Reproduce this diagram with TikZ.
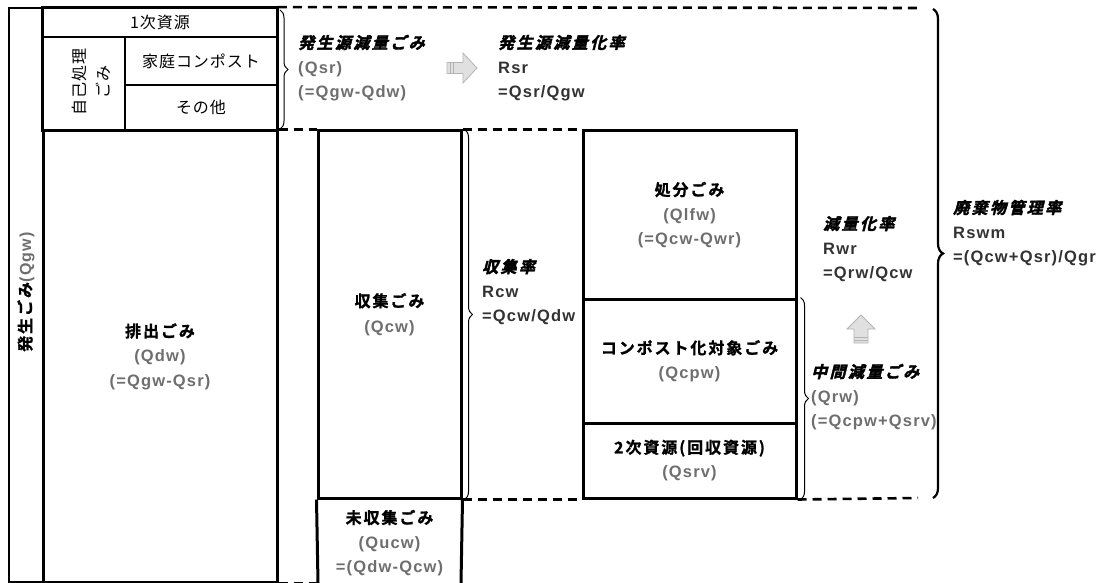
\documentclass[tikz,border=0pt]{standalone}
\usepackage{fontspec}
\setmainfont{Liberation Sans}
\newfontfamily\jpr{Noto Sans CJK JP}[LetterSpace=6]
\newfontfamily\jpb{Noto Sans CJK JP Bold}[LetterSpace=12,FakeBold=1.2]
\newfontfamily\jpbi{Noto Sans CJK JP Bold}[LetterSpace=15,FakeSlant=0.25,FakeBold=2.4]
\newfontfamily\lat{Liberation Sans Bold}[LetterSpace=7]
\usetikzlibrary{decorations.pathreplacing}
\definecolor{qgray}{RGB}{110,110,110}
\definecolor{fgray}{RGB}{50,50,50}
\definecolor{arrfill}{RGB}{224,224,224}
\definecolor{arrline}{RGB}{180,180,180}
\newcommand\fs{\fontsize{16}{24.5}\selectfont}
\newcommand\fsl{\fontsize{16.5}{24.5}\selectfont}
\tikzset{
  cell/.style={draw, line width=3pt, inner sep=0pt, font=\fs, align=center},
  cellthin/.style={draw, line width=1.8pt, inner sep=0pt, font=\fs, align=center},
  dashline/.style={line width=2.6pt, dash pattern=on 9pt off 6pt},
  bracethin/.style={decorate, decoration={brace, amplitude=8pt}, line width=1pt},
  bracebig/.style={decorate, decoration={brace, amplitude=10pt}, line width=2.2pt},
  label/.style={anchor=west, align=left, font=\fs, inner sep=0pt},
  blockarrow/.style={fill=arrfill, draw=arrline, line width=0.8pt, line join=miter}
}
\begin{document}
\begin{tikzpicture}[x=1pt,y=-1pt]
\useasboundingbox (0,0) rectangle (1105,583);

% left column
\node[draw, line width=2.2pt, minimum width=34pt, minimum height=574pt, inner sep=0pt] (gen) at (26,295) {};
\node[rotate=90, font=\fs, inner sep=0pt] (gent) at (26,292) {{\jpb 発生ごみ}{\lat\color{qgray}(Qgw)}};

% top block
\node[cellthin, minimum width=82pt, minimum height=93pt] (jiko) at (84,83.5) {};
\node[rotate=90, align=center, font=\fs\jpr, inner sep=0pt] (jikot) at (91,82) {自己処理\\ごみ};
\node[cellthin, minimum width=152pt, minimum height=48pt] (kotei) at (201,61) {\jpr 家庭コンポスト};
\node[cellthin, minimum width=152pt, minimum height=45pt] (sonota) at (201,107.5) {\jpr その他};
\node[cellthin, minimum width=234pt, minimum height=29pt] (prim) at (160,22.5) {\jpr 1次資源};
\draw[line width=3pt] (prim.north west) rectangle (sonota.south east);

% discharged waste
\node[cell, minimum width=234pt, minimum height=451pt] (haishutsu) at (160,356.5)
  {{\jpb 排出ごみ}\\{\fsl\lat\color{qgray}(Qdw)}\\{\fsl\lat\color{qgray}(=Qgw-Qsr)}};

% collected waste
\node[cell, minimum width=143pt, minimum height=367pt] (shushu) at (389.5,314.5)
  {{\jpb 収集ごみ}\\[1pt]{\fsl\lat\color{qgray}(Qcw)}};
\coordinate (msl) at (318,583);
\coordinate (msr) at (461,583);
\draw[line width=3pt] (shushu.south west) -- (msl);
\draw[line width=3pt] (shushu.south east) -- (msr);
\node[align=center, font=\fs, inner sep=0pt] (mishushu) at (389.5,543)
  {{\jpb 未収集ごみ}\\{\fsl\lat\color{qgray}(Qucw)}\\{\fsl\lat\color{qgray}=(Qdw-Qcw)}};

% right boxes
\node[cell, minimum width=213pt, minimum height=168pt] (shobun) at (689.5,215)
  {{\jpb 処分ごみ}\\{\fsl\lat\color{qgray}(Qlfw)}\\{\fsl\lat\color{qgray}(=Qcw-Qwr)}};
\node[cell, minimum width=213pt, minimum height=124pt] (compost) at (689.5,361)
  {{\jpb コンポスト化対象ごみ}\\{\fsl\lat\color{qgray}(Qcpw)}};
\node[cell, minimum width=213pt, minimum height=75pt] (niji) at (689.5,460.5)
  {{\jpb 2次資源(回収資源)}\\{\fsl\lat\color{qgray}(Qsrv)}};

% dashed lines
\coordinate (topend) at (918,8);
\coordinate (botend) at (918,498);
\draw[dashline] (prim.north east) -- (topend);
\draw[dashline] (haishutsu.north east) -- (shushu.north west);
\draw[dashline] (shushu.north east) -- (shobun.north west);
\draw[dashline] (shushu.south east) -- (niji.south west);
\draw[dashline] (niji.south east) -- (botend);
\draw[dashline] (haishutsu.south east) -- (msl |- haishutsu.south east);

% braces
\coordinate (b1t) at (280,10);
\coordinate (b1b) at (280,129);
\draw[bracethin] (b1t) -- (b1b);
\draw[bracethin] ([xshift=2pt]shushu.north east) -- ([xshift=2pt]shushu.south east);
\draw[bracethin] ([xshift=3pt]compost.north east) -- ([xshift=3pt]niji.south east);
\coordinate (bbt) at (933,9);
\coordinate (bbb) at (933,498);
\draw[bracebig] (bbt) -- (bbb);

% labels
\node[label] (srg) at (298,68) {{\jpbi 発生源減量ごみ}\\{\fsl\lat\color{qgray}(Qsr)}\\{\fsl\lat\color{qgray}(=Qgw-Qdw)}};
\node[label] (srr) at (498,68) {{\jpbi 発生源減量化率}\\{\fsl\lat\color{fgray}Rsr}\\{\fsl\lat\color{fgray}=Qsr/Qgw}};
\node[label] (cwr) at (482,292) {{\jpbi 収集率}\\{\fsl\lat\color{fgray}Rcw}\\{\fsl\lat\color{fgray}=Qcw/Qdw}};
\node[label] (wrr) at (823,249) {{\jpbi 減量化率}\\{\fsl\lat\color{fgray}Rwr}\\{\fsl\lat\color{fgray}=Qrw/Qcw}};
\node[label] (rwg) at (811,397) {{\jpbi 中間減量ごみ}\\{\fsl\lat\color{qgray}(Qrw)}\\{\fsl\lat\color{qgray}(=Qcpw+Qsrv)}};
\node[label] (swm) at (953,233) {{\jpbi 廃棄物管理率}\\{\fsl\lat\color{fgray}Rswm}\\{\fsl\lat\color{fgray}=(Qcw+Qsr)/Qgr}};

% block arrows
\draw[blockarrow] (447,62.5) -- (463,62.5) -- (463,53) -- (477,68) -- (463,83) -- (463,73.5) -- (447,73.5) -- cycle;
\draw[arrline, line width=0.8pt] (450,62.5) -- (450,73.5) (453,62.5) -- (453,73.5);
\draw[blockarrow] (861,315) -- (875,329) -- (868,329) -- (868,343) -- (854,343) -- (854,329) -- (847,329) -- cycle;
\draw[arrline, line width=0.8pt] (854,340) -- (868,340) (854,337) -- (868,337);
\end{tikzpicture}
\end{document}
